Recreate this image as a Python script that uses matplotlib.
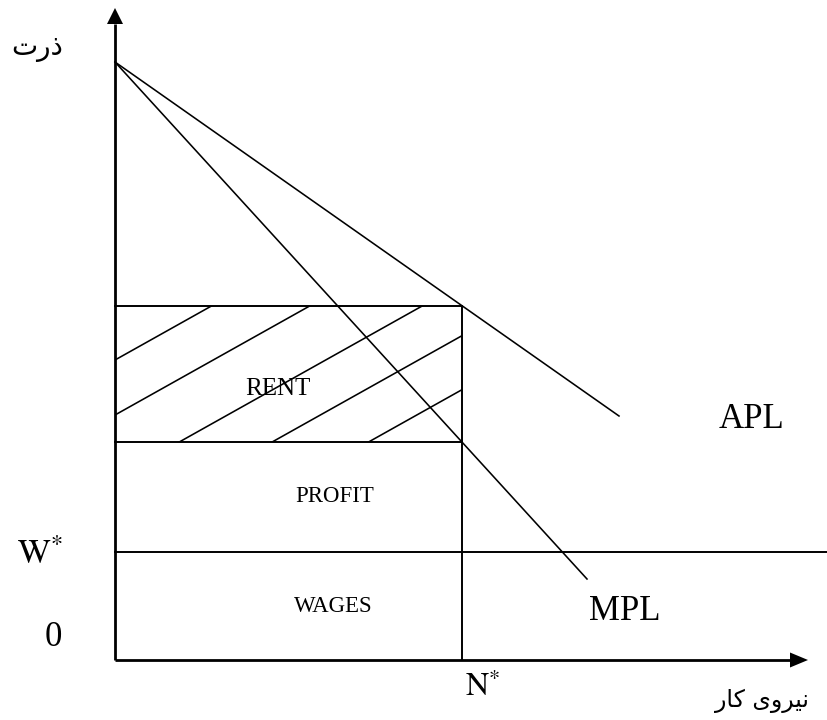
import matplotlib
matplotlib.use("Agg")
import matplotlib.pyplot as plt
from matplotlib.patches import Rectangle

plt.rcParams['font.family'] = ['Liberation Serif', 'DejaVu Sans']
plt.rcParams['mathtext.fontset'] = 'stix'

# Diagram values (data units ~ screen pixels, origin at the axes corner)
x_axis_end = 693
y_axis_end = 652
n_star = 347          # labour at equilibrium
w_star = 108          # wage level
apl_x = [0, 504]
apl_y = [598, 244]
mpl_x = [0, 472]
mpl_y = [598, 81]
apl_at_n = 354        # top of rent box
mpl_at_n = 218        # bottom of rent box
hatch_intercepts = [300, 245, 182, 130, 76]
hatch_slope = 0.56

# Labels (Persian drawn in visual order with presentation forms)
y_label = "\uFE95\uFEAD\uFEAB"                                  # ذرت
x_label = "\uFEAD\uFE8E\uFB90 \uFBFC\uFEED\uFEAE\uFBFF\uFEE7"    # نیروی کار

fig = plt.figure(figsize=(8.28, 7.2), dpi=100)
ax = fig.add_axes([0, 0, 1, 1])
ax.set_xlim(-115, 713)
ax.set_ylim(-60, 660)
ax.axis('off')

lw = 1.15
# axes with arrows
ax.plot([0, x_axis_end - 16], [0, 0], color='black', lw=2.0, solid_capstyle='butt')
ax.plot([0, 0], [0, y_axis_end - 16], color='black', lw=2.0, solid_capstyle='butt')
ax.arrow(x_axis_end - 18, 0, 18, 0, head_width=15, head_length=18,
         length_includes_head=True, color='black', lw=0)
ax.arrow(0, y_axis_end - 16, 0, 16, head_width=16, head_length=16,
         length_includes_head=True, color='black', lw=0)

# curves
ax.plot(apl_x, apl_y, color='black', lw=lw)
ax.plot(mpl_x, mpl_y, color='black', lw=lw)

# wage line
ax.plot([0, 713], [w_star, w_star], color='black', lw=1.4)

# boxes
ax.plot([n_star, n_star], [0, apl_at_n], color='black', lw=1.4)
ax.plot([0, n_star], [apl_at_n, apl_at_n], color='black', lw=1.4)
ax.plot([0, n_star], [mpl_at_n, mpl_at_n], color='black', lw=1.4)

# hatching in rent box
clip = Rectangle((0, mpl_at_n), n_star, apl_at_n - mpl_at_n, transform=ax.transData,
                 facecolor='none', edgecolor='none')
ax.add_patch(clip)
for c in hatch_intercepts:
    ln, = ax.plot([0, n_star], [c, c + hatch_slope * n_star], color='black', lw=lw)
    ln.set_clip_path(clip)

# texts
ax.text(163, 271, "RENT", fontsize=18, ha='center', va='center')
ax.text(220, 163, "PROFIT", fontsize=16.5, ha='center', va='center')
ax.text(218, 54, "WAGES", fontsize=16.5, ha='center', va='center')
ax.text(637, 241, "APL", fontsize=25, ha='center', va='center')
ax.text(510, 49, "MPL", fontsize=25, ha='center', va='center')
ax.text(-75, 104, r"$\mathrm{W}^{*}$", fontsize=25, ha='center', va='center')
ax.text(-62, 22, "0", fontsize=25, ha='center', va='center')
ax.text(368, -28, r"$\mathrm{N}^{*}$", fontsize=23, ha='center', va='center')
ax.text(-78, 612, y_label, fontsize=20, ha='center', va='center', family='DejaVu Sans')
ax.text(647, -41, x_label, fontsize=17, ha='center', va='center', family='DejaVu Sans')

fig.savefig("out.png", dpi=100)
